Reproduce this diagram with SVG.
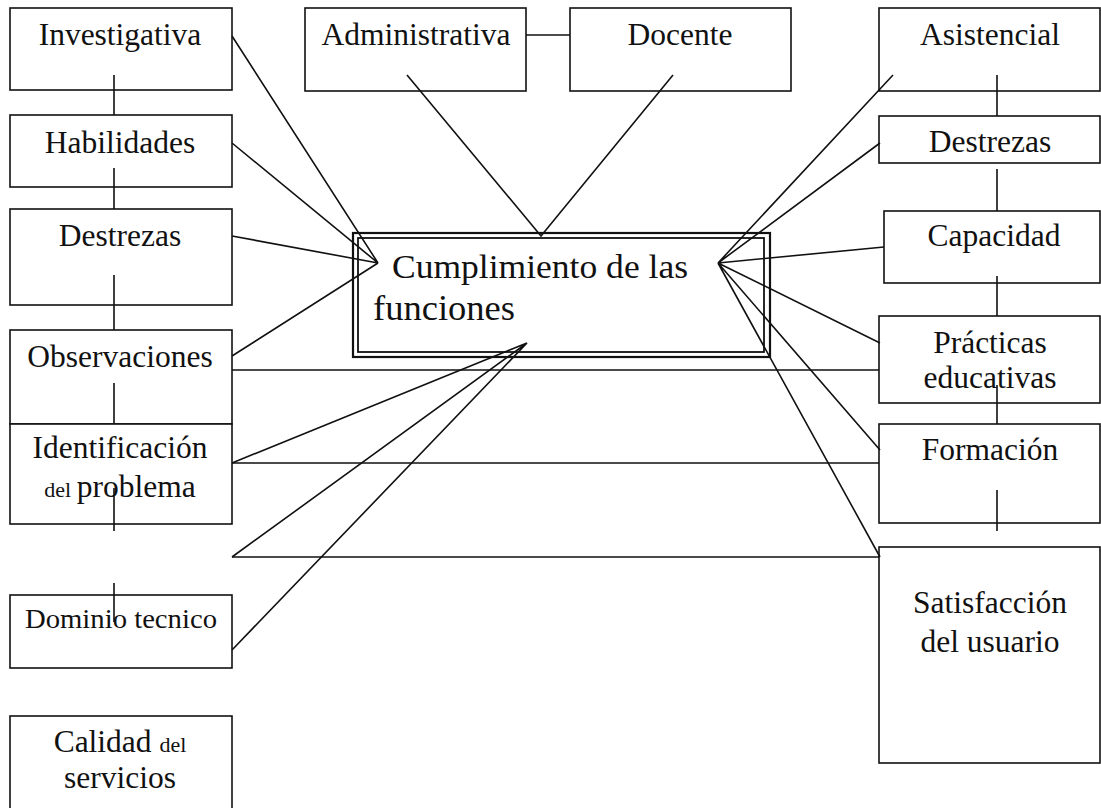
<svg xmlns="http://www.w3.org/2000/svg" width="1101" height="808" viewBox="0 0 1101 808">
<style>
.box{fill:#fff;stroke:#111;stroke-width:1.6}
.ln{stroke:#111;stroke-width:1.6;fill:none}
text{font-family:"Liberation Serif","Times New Roman",serif;fill:#111;font-size:31.5px;text-anchor:middle}
.sm{font-size:22px}
</style>
<rect width="1101" height="808" fill="#fff"/>
<g id="central">
<rect x="353" y="233" width="417" height="124" fill="none" stroke="#111" stroke-width="2.2"/>
<rect x="358" y="238" width="406" height="114" fill="none" stroke="#111" stroke-width="1.8"/>
<text x="392" y="278" style="text-anchor:start;font-size:34px" textLength="296" lengthAdjust="spacingAndGlyphs">Cumplimiento de las</text>
<text x="373" y="320" style="text-anchor:start;font-size:36px" textLength="142" lengthAdjust="spacingAndGlyphs">funciones</text>
</g>
<g id="investigativa"><rect class="box" x="10" y="8" width="222" height="82"/><text x="120" y="45">Investigativa</text></g>
<g id="habilidades"><rect class="box" x="10" y="115" width="222" height="72"/><text x="120" y="153">Habilidades</text></g>
<g id="destrezas-l"><rect class="box" x="10" y="209" width="222" height="96"/><text x="120" y="246">Destrezas</text></g>
<g id="observaciones"><rect class="box" x="10" y="330" width="222" height="94"/><text x="120" y="367">Observaciones</text></g>
<g id="identificacion"><rect class="box" x="10" y="424" width="222" height="100"/><text x="120" y="458">Identificación</text><text x="120" y="497"><tspan class="sm">del </tspan>problema</text></g>
<g id="dominio"><rect class="box" x="10" y="595" width="222" height="73"/><text x="121" y="628" style="font-size:27px" textLength="192" lengthAdjust="spacingAndGlyphs">Dominio tecnico</text></g>
<g id="calidad"><rect class="box" x="10" y="716" width="222" height="110"/><text x="120" y="752">Calidad <tspan class="sm">del</tspan></text><text x="120" y="788">servicios</text></g>
<g id="administrativa"><rect class="box" x="305" y="8" width="221" height="83"/><text x="416" y="45">Administrativa</text></g>
<g id="docente"><rect class="box" x="570" y="8" width="221" height="83"/><text x="680" y="45">Docente</text></g>
<g id="asistencial"><rect class="box" x="879" y="8" width="221" height="83"/><text x="990" y="45">Asistencial</text></g>
<g id="destrezas-r"><rect class="box" x="879" y="116" width="221" height="47"/><text x="990" y="152">Destrezas</text></g>
<g id="capacidad"><rect class="box" x="884" y="211" width="216" height="72"/><text x="994" y="246">Capacidad</text></g>
<g id="practicas"><rect class="box" x="879" y="316" width="221" height="87"/><text x="990" y="353">Prácticas</text><text x="990" y="388">educativas</text></g>
<g id="formacion"><rect class="box" x="879" y="424" width="221" height="99"/><text x="990" y="460">Formación</text></g>
<g id="satisfaccion"><rect class="box" x="879" y="547" width="221" height="216"/><text x="990" y="613">Satisfacción</text><text x="990" y="652">del usuario</text></g>
<g id="connectors">
<path class="ln" d="M114 75V115M114 168V209M114 275V330M114 383V424M114 488V531M114 583V622"/>
<path class="ln" d="M997 75V116M997 169V211M997 276V316M997 385V424M997 490V531"/>
<path class="ln" d="M526 35H570"/>
<path class="ln" d="M407 75L541 236L673 75"/>
<path class="ln" d="M232 36L378 263M232 143L378 263M232 236L378 263M232 356L378 263"/>
<path class="ln" d="M893 75L718 263M880 143L718 263M884 247L718 263M880 343L718 263M880 450L718 263M880 557L718 263"/>
<path class="ln" d="M232 370H879M232 463H879M232 557H879"/>
<path class="ln" d="M232 463L527 343M232 557L527 343M232 650L527 343"/>
</g>
</svg>
